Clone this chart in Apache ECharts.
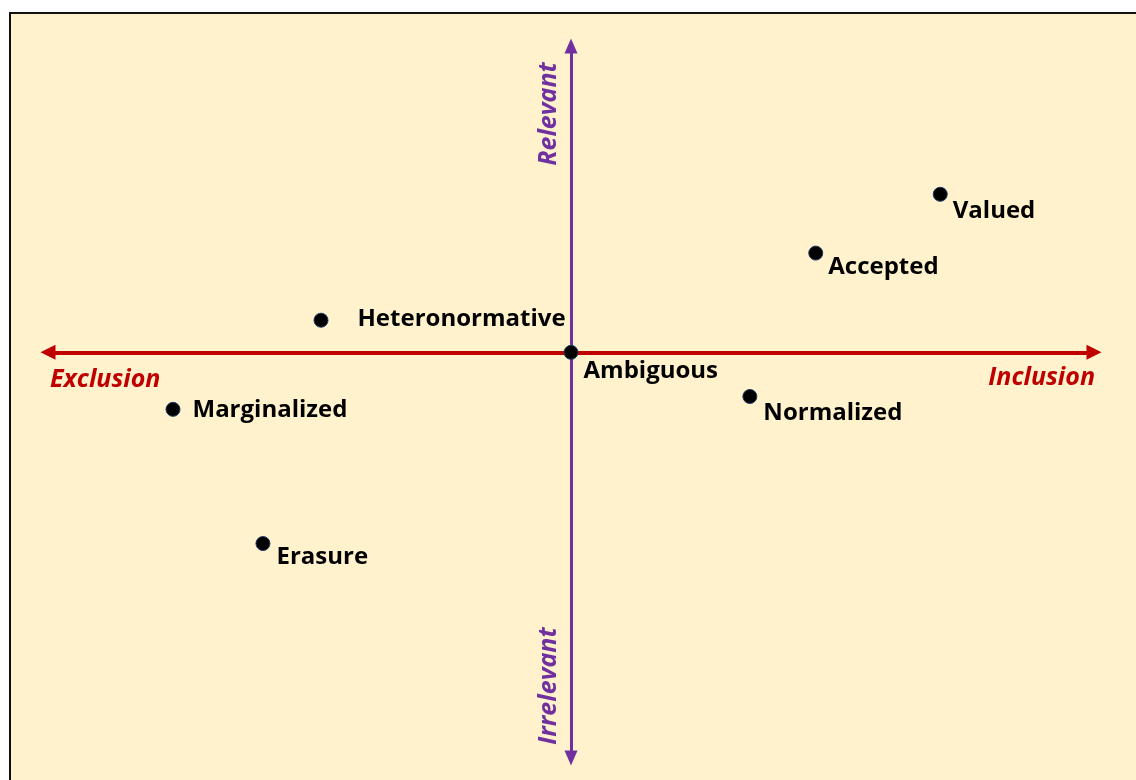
<!DOCTYPE html>
<html>
<head>
<meta charset="utf-8">
<title>Inclusion / Relevance map</title>
<script src="https://cdn.jsdelivr.net/npm/echarts@6/dist/echarts.min.js"></script>
<style>
  html, body { margin: 0; padding: 0; background: #ffffff; }
  #chart {
    position: absolute; left: 9px; top: 12px;
    width: 1125px; height: 766px;
    border-top: 2px solid #111; border-left: 2px solid #111;
    background: #FFF2CC;
  }
</style>
</head>
<body>
<div id="chart"></div>
<script>
  /*** data ***/
  var names = ['Valued', 'Accepted', 'Heteronormative', 'Ambiguous', 'Normalized', 'Marginalized', 'Erasure'];
  var xValues = [7.06, 4.68, -4.78, 0, 3.42, -7.61, -5.89];   // exclusion (-) .. inclusion (+)
  var yValues = [5.16, 3.24, 1.05, 0, -1.44, -1.86, -6.24];    // irrelevant (-) .. relevant (+)
  var axisLabels = { left: 'Exclusion', right: 'Inclusion', top: 'Relevant', bottom: 'Irrelevant' };

  // label offset for each point (px), same order as names
  var labelOffsets = [[0, 17], [0, 14], [24, -1], [0, 19], [1, 17], [7, 1], [1, 14]];

  var RED = '#C00000';
  var PURPLE = '#7030A0';
  var FONT = '"Open Sans", Lato, sans-serif';

  var points = [];
  for (var i = 0; i < names.length; i++) {
    points.push({
      name: names[i],
      value: [xValues[i], yValues[i]],
      label: { offset: labelOffsets[i] }
    });
  }

  var myChart = echarts.init(document.getElementById('chart'));

  var option = {
    animation: false,
    backgroundColor: 'transparent',
    grid: { left: 37, right: 42, top: 32, bottom: 22 },
    xAxis: {
      type: 'value',
      min: -10,
      max: 10,
      splitLine: { show: false },
      axisTick: { show: false },
      axisLabel: { show: false },
      axisLine: {
        onZero: true,
        symbol: ['triangle', 'triangle'],
        symbolSize: [15, 15],
        lineStyle: { color: RED, width: 4 }
      }
    },
    yAxis: {
      type: 'value',
      min: -13.24,
      max: 10,
      splitLine: { show: false },
      axisTick: { show: false },
      axisLabel: { show: false },
      axisLine: {
        onZero: true,
        symbol: ['triangle', 'triangle'],
        symbolSize: [13, 15],
        lineStyle: { color: PURPLE, width: 3 }
      }
    },
    series: [{
      type: 'scatter',
      symbol: 'circle',
      symbolSize: 14,
      itemStyle: { color: '#000000', borderColor: '#1F3864', borderWidth: 1, opacity: 1 },
      label: {
        show: true,
        position: 'right',
        formatter: '{b}',
        color: '#000000',
        fontFamily: FONT,
        fontWeight: 'bold',
        fontSize: 24
      },
      emphasis: { disabled: true },
      z: 5,
      data: points
    }],
    graphic: [
      {
        type: 'text', left: 39, top: 353,
        style: { text: axisLabels.left, fill: RED, font: 'italic bold 25px ' + FONT }
      },
      {
        type: 'text', right: 41, top: 351,
        style: { text: axisLabels.right, fill: RED, font: 'italic bold 25px ' + FONT }
      },
      {
        type: 'text', x: 538, y: 100, rotation: Math.PI / 2,
        style: { text: axisLabels.top, fill: PURPLE, font: 'italic bold 25px ' + FONT,
          x: 0, y: 0, align: 'center', verticalAlign: 'middle' }
      },
      {
        type: 'text', x: 538, y: 672, rotation: Math.PI / 2,
        style: { text: axisLabels.bottom, fill: PURPLE, font: 'italic bold 25px ' + FONT,
          x: 0, y: 0, align: 'center', verticalAlign: 'middle' }
      }
    ]
  };

  myChart.setOption(option);
</script>
</body>
</html>
